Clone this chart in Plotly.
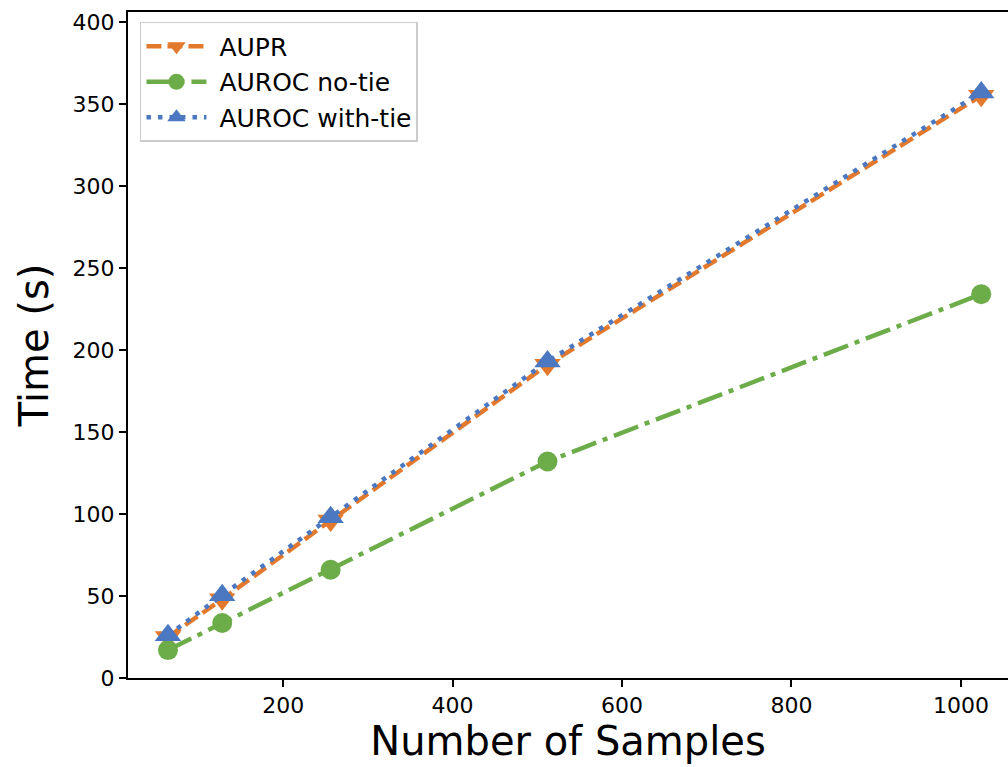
import plotly.graph_objects as go

samples = [64, 128, 256, 512, 1024]
aupr = [25, 48, 96, 191, 355]
auroc_notie = [17, 33.5, 66, 132, 234]
auroc_tie = [26, 50.5, 98, 193, 357]

c_orange = "#E3792C"
c_green = "#6CAD4A"
c_blue = "#4B78C0"
font = "DejaVu Sans"

fig = go.Figure()
fig.add_trace(go.Scatter(x=samples, y=aupr, name=" AUPR", mode="lines+markers", legendgroup="a",
                         line=dict(color=c_orange, width=4.5, dash="15px,6px"),
                         marker=dict(symbol="triangle-down", size=23, color=c_orange)))
fig.add_trace(go.Scatter(x=samples, y=auroc_notie, name=" AUROC no-tie", mode="lines+markers", legendgroup="b",
                         line=dict(color=c_green, width=4.5, dash="26px,7px,5px,7px"),
                         marker=dict(symbol="circle", size=20, color=c_green)))
fig.add_trace(go.Scatter(x=samples, y=auroc_tie, name=" AUROC with-tie", mode="lines+markers", legendgroup="c",
                         line=dict(color=c_blue, width=4.5, dash="4.5px,7px"),
                         marker=dict(symbol="triangle-up", size=23, color=c_blue)))

axis_common = dict(showgrid=False, zeroline=False, showline=True, linecolor="black",
                   linewidth=2, ticks="outside", ticklen=7, tickwidth=1.5, tickcolor="black",
                   tickfont=dict(family=font, size=22, color="black"))

fig.update_layout(
    width=1008, height=767,
    margin=dict(l=128, r=0, t=12, b=89),
    paper_bgcolor="white", plot_bgcolor="white",
    font=dict(family=font, color="black"),
    xaxis=dict(range=[16.8, 1055.6], tickvals=[200, 400, 600, 800, 1000], mirror=True,
               title=dict(text="Number of Samples", font=dict(family=font, size=40), standoff=10),
               **axis_common),
    yaxis=dict(range=[0, 406], tickvals=list(range(0, 401, 50)),
               title=dict(text="Time (s)", font=dict(family=font, size=40), standoff=12),
               **axis_common),
    legend=dict(x=0.0136, y=0.985, xanchor="left", yanchor="top",
                bgcolor="white", bordercolor="#cccccc", borderwidth=1.5,
                itemwidth=60, tracegroupgap=0,
                font=dict(family=font, size=25, color="black")),
)

fig.write_html("out.html")
